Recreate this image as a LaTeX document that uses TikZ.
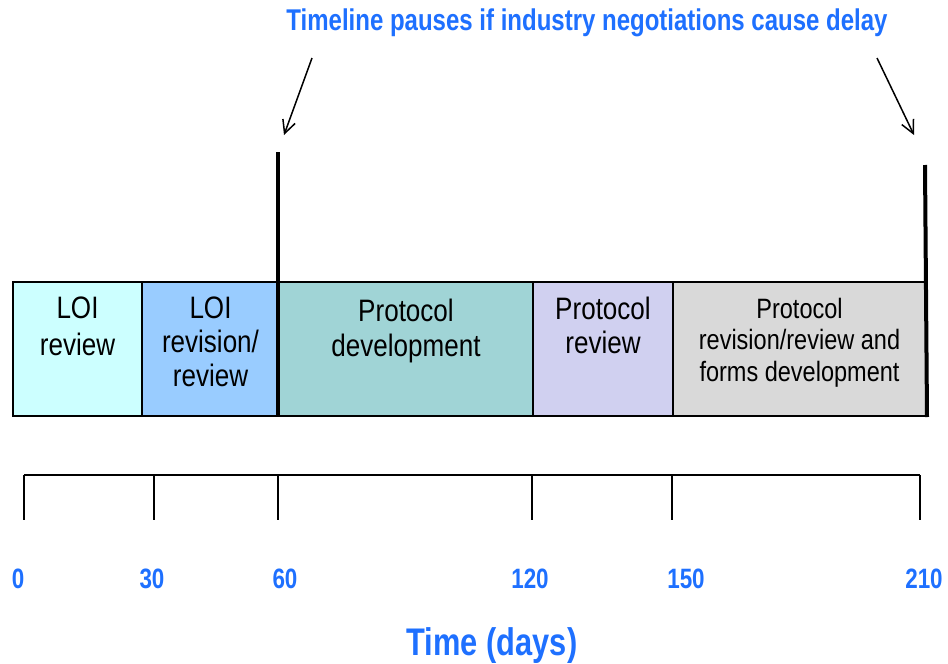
\documentclass[tikz,border=0pt]{standalone}
\usepackage{fontspec}
\setmainfont{Liberation Sans}[FakeStretch=0.84]
\newfontfamily\bluefont{Liberation Sans Bold}[FakeStretch=0.80]
\usetikzlibrary{arrows.meta,positioning}
\definecolor{tblue}{RGB}{30,112,255}
\definecolor{c1}{RGB}{204,255,255}
\definecolor{c2}{RGB}{153,204,255}
\definecolor{c3}{RGB}{160,212,214}
\definecolor{c4}{RGB}{208,208,240}
\definecolor{c5}{RGB}{217,217,217}
\tikzset{
  phase/.style={draw=black, line width=2pt, anchor=north west, minimum height=134pt, inner sep=0pt},
  phasetxt/.style={anchor=north, align=center, font=\fontsize{31}{34}\selectfont, inner sep=0pt},
  pauseline/.style={line width=4pt},
  axisline/.style={line width=1.8pt},
  pointer/.style={line width=1.5pt, -{Straight Barb[length=13pt,width=13pt,line width=1.5pt]}},
  ticklabel/.style={text=tblue, font=\bluefont\fontsize{28}{32}\selectfont, anchor=base},
}
\begin{document}
\begin{tikzpicture}[x=1pt,y=-1pt]
\useasboundingbox[fill=white] (0,0) rectangle (948,664);
% boxes
\node[phase, fill=c1, minimum width=129pt] (b1) at (12,281) {};
\node[phase, fill=c2, minimum width=137pt] (b2) at (141,281) {};
\node[phase, fill=c3, minimum width=254pt] (b3) at (278,281) {};
\node[phase, fill=c4, minimum width=140pt] (b4) at (532,281) {};
\node[phase, fill=c5, minimum width=253pt] (b5) at (672,281) {};
% texts
\node[phasetxt, font=\fontsize{31}{37}\selectfont] (t1) at ([yshift=-16pt]b1.north) {LOI\\review};
\node[phasetxt] (t2) at ([yshift=-16pt]b2.north) {LOI\\revision/\\review};
\node[phasetxt, font=\fontsize{31}{35}\selectfont] (t3) at ([yshift=-18pt]b3.north) {Protocol\\development};
\node[phasetxt] (t4) at ([yshift=-16pt]b4.north) {Protocol\\review};
\node[phasetxt, font=\fontsize{28}{31.5}\selectfont] (t5) at ([yshift=-17pt]b5.north) {Protocol\\revision/review and\\forms development};
% pause lines
\coordinate (p1top) at (278,152);
\coordinate (p2top) at (925,165);
\draw[pauseline] (p1top) -- (b3.south west);
\draw[pauseline] (p2top) -- (b5.south east);
% title and arrows
\node[text=tblue, font=\bluefont\fontsize{30}{34}\selectfont, anchor=base] (title) at (587,30) {Timeline pauses if industry negotiations cause delay};
\coordinate (a1s) at (312,58);
\coordinate (a1e) at (284,135);
\coordinate (a2s) at (877,58);
\coordinate (a2e) at (914,135);
\draw[pointer] (a1s) -- (a1e);
\draw[pointer] (a2s) -- (a2e);
% axis
\coordinate (k0) at (24,475);
\coordinate (k30) at (154,475);
\coordinate (k60) at (278,475);
\coordinate (k120) at (532,475);
\coordinate (k150) at (672,475);
\coordinate (k210) at (920,475);
\draw[axisline] (k0) -- (k210);
\foreach \k in {k0,k30,k60,k120,k150,k210}{
  \draw[axisline] (\k) -- ++(0,45);
}
\node[ticklabel] (l0) at (18,588) {0};
\node[ticklabel] (l30) at (152,588) {30};
\node[ticklabel] (l60) at (285,588) {60};
\node[ticklabel] (l120) at (530,588) {120};
\node[ticklabel] (l150) at (686,588) {150};
\node[ticklabel] (l210) at (924,588) {210};
\node[text=tblue, font=\bluefont\fontsize{38.5}{44}\selectfont, anchor=base] (xlabel) at (492,655) {Time (days)};
\end{tikzpicture}
\end{document}
